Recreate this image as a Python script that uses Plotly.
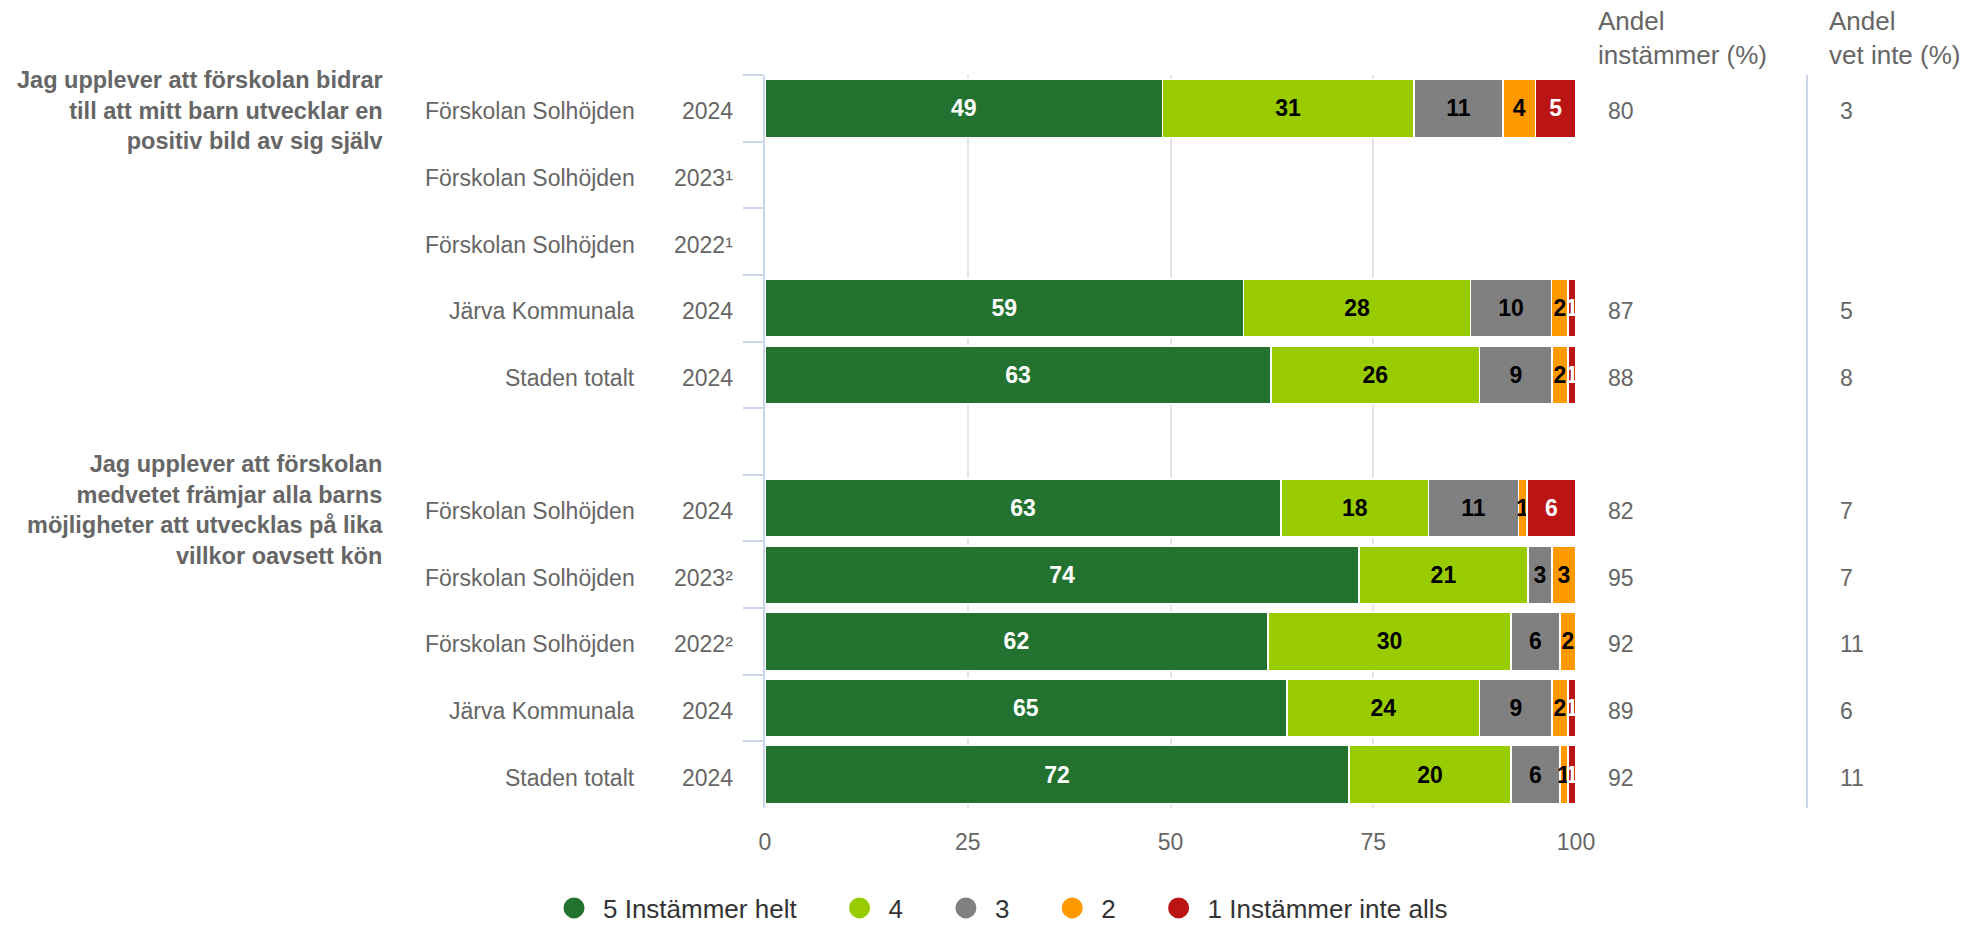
import plotly.graph_objects as go

# ---------------- data ----------------
questions = [
    "Jag upplever att förskolan bidrar<br>till att mitt barn utvecklar en<br>positiv bild av sig själv",
    "Jag upplever att förskolan<br>medvetet främjar alla barns<br>möjligheter att utvecklas på lika<br>villkor oavsett kön",
]
units = ["Förskolan Solhöjden", "Förskolan Solhöjden", "Förskolan Solhöjden",
         "Järva Kommunala", "Staden totalt"]
years_q1 = ["2024", "2023¹", "2022¹", "2024", "2024"]
years_q2 = ["2024", "2023²", "2022²", "2024", "2024"]

series_names = ["5 Instämmer helt", "4", "3", "2", "1 Instämmer inte alls"]

# rows: Q1 (5 rows) then Q2 (5 rows)
v5 = [49, None, None, 59, 63, 63, 74, 62, 65, 72]
v4 = [31, None, None, 28, 26, 18, 21, 30, 24, 20]
v3 = [11, None, None, 10, 9, 11, 3, 6, 9, 6]
v2 = [4, None, None, 2, 2, 1, 3, 2, 2, 1]
v1 = [5, None, None, 1, 1, 6, 0, 0, 1, 1]

andel_instammer = [80, None, None, 87, 88, 82, 95, 92, 89, 92]
andel_vet_inte = [3, None, None, 5, 8, 7, 7, 11, 6, 11]

x_ticks = [0, 25, 50, 75, 100]

# ---------------- styles ----------------
series_colors = ["#247230", "#99cc00", "#808080", "#ff9900", "#bb1414"]
label_colors = ["#ffffff", "#000000", "#000000", "#000000", "#ffffff"]
FONT = "Liberation Sans, Arial, Helvetica, sans-serif"
GREY = "#666666"
NBSP = "\u00a0"

W, H = 1970, 927
L, R, T, B = 765, 394, 75, 119
PW, PH = W - L - R, H - T - B


def xp(px):
    return (px - L) / PW


def yp(py):
    return (H - B - py) / PH


# ---------------- categories ----------------
row_keys = []
row_units = []
row_years = []
for qi, yrs in enumerate([years_q1, years_q2]):
    for u, yr in zip(units, yrs):
        row_keys.append(f"Q{qi + 1} {u} {yr}")
        row_units.append(u)
        row_years.append(yr)

GAP = "gap"
n_q1 = len(years_q1)
categories = row_keys[:n_q1] + [GAP] + row_keys[n_q1:]
cat_index = {c: i for i, c in enumerate(categories)}


def with_gap(vals):
    return list(vals[:n_q1]) + [None] + list(vals[n_q1:])


fig = go.Figure()

for name, vals, col, lcol in zip(series_names, [v5, v4, v3, v2, v1],
                                 series_colors, label_colors):
    full = with_gap(vals)
    fig.add_trace(go.Bar(
        y=categories,
        x=full,
        orientation="h",
        name=name,
        legendgroup=name,
        showlegend=False,
        marker=dict(color=col, line=dict(color="#ffffff", width=1.5)),
        text=["" if (v is None or v == 0) else str(v) for v in full],
        textposition="inside",
        insidetextanchor="middle",
        textangle=0,
        textfont=dict(family=FONT, size=23, color=lcol, weight="bold"),
        hoverinfo="skip",
    ))

# legend entries with round symbols
for i, (name, col) in enumerate(zip(series_names, series_colors)):
    pad = NBSP * 4 if i < len(series_names) - 1 else ""
    fig.add_trace(go.Scatter(
        x=[None], y=[None], mode="markers", name=name + pad, legendgroup=name,
        marker=dict(color=col, size=16, symbol="circle", line=dict(color=col, width=5)),
        showlegend=True, hoverinfo="skip",
    ))

annotations = []
# unit names and years
for key, u, yr in zip(row_keys, row_units, row_years):
    yi = cat_index[key]
    annotations.append(dict(x=xp(637), y=yi, xref="paper", yref="y", text=u,
                            xanchor="right", yanchor="middle", yshift=-3, showarrow=False,
                            font=dict(family=FONT, size=23, color=GREY)))
    annotations.append(dict(x=xp(735), y=yi, xref="paper", yref="y", text=yr,
                            xanchor="right", yanchor="middle", yshift=-3, showarrow=False,
                            font=dict(family=FONT, size=23, color=GREY)))

# question texts, centred on the first row of each group
for qi, q in enumerate(questions):
    first_key = row_keys[qi * n_q1]
    annotations.append(dict(x=xp(385), y=cat_index[first_key], xref="paper", yref="y",
                            text=q, xanchor="right", yanchor="middle", align="right",
                            yshift=-2, showarrow=False,
                            font=dict(family=FONT, size=23.5, color=GREY, weight="bold")))

# right-hand value columns
for key, a, v in zip(row_keys, andel_instammer, andel_vet_inte):
    yi = cat_index[key]
    if a is not None:
        annotations.append(dict(x=xp(1606), y=yi, xref="paper", yref="y", text=str(a),
                                xanchor="left", yanchor="middle", yshift=-3, showarrow=False,
                                font=dict(family=FONT, size=23, color=GREY)))
    if v is not None:
        annotations.append(dict(x=xp(1838), y=yi, xref="paper", yref="y", text=str(v),
                                xanchor="left", yanchor="middle", yshift=-3, showarrow=False,
                                font=dict(family=FONT, size=23, color=GREY)))

# column headers
for text, xpix in [("Andel<br>instämmer (%)", 1596), ("Andel<br>vet inte (%)", 1827)]:
    annotations.append(dict(x=xp(xpix), y=yp(38), xref="paper", yref="paper", text=text,
                            xanchor="left", yanchor="middle", align="left", showarrow=False,
                            font=dict(family=FONT, size=26, color=GREY)))

fig.update_layout(
    width=W, height=H, autosize=False,
    margin=dict(l=L, r=R, t=T, b=B, pad=0, autoexpand=False),
    paper_bgcolor="#ffffff", plot_bgcolor="#ffffff",
    barmode="stack", barnorm="percent", bargap=0.13,
    uniformtext=dict(minsize=23, mode="show"),
    font=dict(family=FONT, size=23, color=GREY),
    showlegend=True,
    legend=dict(orientation="h", x=xp(545), xanchor="left", y=yp(908), yanchor="middle",
                itemwidth=48,
                font=dict(family=FONT, size=26, color="#333333"), bgcolor="rgba(0,0,0,0)"),
    xaxis=dict(range=[0, 100], tickvals=x_ticks, ticktext=[str(t) for t in x_ticks],
               showgrid=True, gridcolor="#e6e6e6", gridwidth=2, zeroline=False,
               showline=False, ticks="", ticklabelstandoff=18,
               tickfont=dict(family=FONT, size=23, color=GREY), fixedrange=True),
    yaxis=dict(type="category", categoryorder="array", categoryarray=categories,
               range=[len(categories) - 0.5, -0.5], showticklabels=False,
               showgrid=False, zeroline=False, showline=True, linecolor="#ccd6eb",
               linewidth=2, ticks="outside", tickson="boundaries", ticklen=20,
               tickcolor="#ccd6eb", tickwidth=2, fixedrange=True),
    annotations=annotations,
    shapes=[dict(type="line", xref="paper", yref="paper", x0=xp(1807), x1=xp(1807),
                 y0=0, y1=1, line=dict(color="#ccd6eb", width=2))],
)

fig.write_html("out.html", config={"displayModeBar": False},
               post_script="document.body.style.margin='0';")
